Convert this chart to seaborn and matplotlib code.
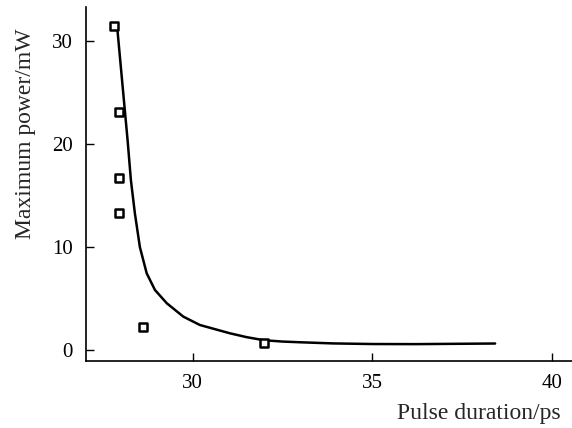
import matplotlib
matplotlib.use("Agg")
import matplotlib.pyplot as plt
import seaborn as sns

# Measured points (squares)
pulse_ps = [27.82, 27.94, 27.96, 27.94, 28.61, 31.98]
power_mw = [31.5, 23.1, 16.75, 13.3, 2.27, 0.71]

# Fitted curve
fit_x = [27.90, 28.05, 28.19, 28.28, 28.39, 28.53, 28.72, 28.95, 29.28, 29.74,
         30.2, 31.04, 31.5, 31.98, 32.5, 33.0, 33.9, 35.0, 36.2, 37.3, 38.42]
fit_y = [31.3, 25.6, 20.3, 16.5, 13.3, 10.0, 7.45, 5.83, 4.54, 3.24,
         2.43, 1.62, 1.25, 0.95, 0.82, 0.75, 0.64, 0.58, 0.57, 0.60, 0.63]

x_ticks = [30, 35, 40]
y_ticks = [0, 10, 20, 30]

sns.set_style("ticks")
plt.rcParams['font.family'] = ['Liberation Serif', 'DejaVu Serif']

fig = plt.figure(figsize=(5.72, 4.28), dpi=100)
ax = fig.add_axes([86 / 572, (428 - 360.7) / 428, 486 / 572, 353.7 / 428])

sns.lineplot(x=fit_x, y=fit_y, sort=False, estimator=None, color='black',
             linewidth=1.8, ax=ax)
sns.scatterplot(x=pulse_ps, y=power_mw, marker='s', s=40, facecolor='white',
                edgecolor='black', linewidth=1.8, zorder=3, ax=ax)

ax.set_xlim(27.03, 40.56)
ax.set_ylim(-1.04, 33.33)
ax.set_xticks(x_ticks)
ax.set_yticks(y_ticks)
ax.tick_params(direction='in', length=5.5, width=1.0, pad=9.5,
               labelsize=15, colors='black')
sns.despine(ax=ax)
for side in ['left', 'bottom']:
    ax.spines[side].set_linewidth(1.2)
    ax.spines[side].set_color('black')

ax.set_xlabel('')
ax.set_ylabel('')
fig.text(26 / 572, 1 - 133.5 / 428, 'Maximum power/mW', rotation=90,
         ha='center', va='center', fontsize=17)
fig.text(561 / 572, 1 - 419 / 428, 'Pulse duration/ps', ha='right',
         va='baseline', fontsize=17)

fig.savefig('out.png', dpi=100)
